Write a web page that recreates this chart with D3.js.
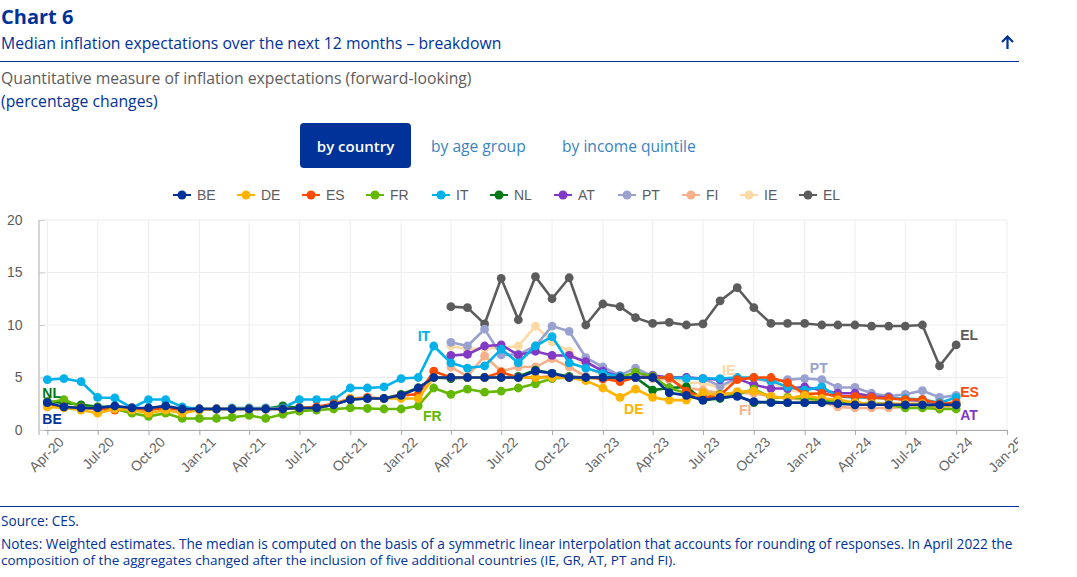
<!DOCTYPE html>
<html>
<head>
<meta charset="utf-8">
<script src="https://cdn.jsdelivr.net/npm/d3@7"></script>
<style>
  html, body { margin: 0; padding: 0; background: #fff; }
  svg { display: block; }
  .head { font-family: "Open Sans", sans-serif; }
  .sans { font-family: "Liberation Sans", Arial, sans-serif; }
</style>
</head>
<body>
<svg id="chart" width="1077" height="577"></svg>
<script>
const startMonth = new Date(2020, 3, 1);

const BE = [2.6,2.2,2.1,2.1,2.3,2.1,2.1,2.3,2.0,2,2,2,2,2,2,2.1,2.1,2.4,2.9,3,3,3.3,4,5,5,5,5,5,5,5.6,5.4,5,5,5,5,5,5,3.55,3.3,2.85,3.1,3.2,2.7,2.6,2.6,2.6,2.6,2.5,2.4,2.4,2.4,2.4,2.4,2.4,2.4];
const DE = [2.2,2.1,1.9,1.6,2,1.9,1.6,1.9,1.6,1.9,2,2,2,2,2,2.1,2.1,2.4,3,3,3,3,3,5,5,5,5,5,5,5,5,5,4.7,4,3.1,3.9,3.1,2.85,2.85,3.55,3.3,3.65,3.7,3.2,3,3.3,3,2.9,2.6,2.5,2.5,2.5,2.5,2.3,2.4];
const ES = [2.4,2.2,2.1,2,1.9,2.1,1.9,2.1,1.9,2,2,2,2,2,2,2.1,2.2,2.5,3,3.1,3,3.3,3.4,5.6,5,5,5,5.5,5,5,5.1,5,5,4.9,4.6,5,5,5,3.7,3.1,3.3,4.8,5,5,4.5,3.4,3.5,3.2,3.2,3.1,3,2.9,2.9,2.5,2.6];
const FR = [2.6,2.9,2.2,2.1,2,1.6,1.3,1.6,1.1,1.1,1.1,1.2,1.4,1.1,1.5,1.8,1.9,2,2.1,2.05,2,2,2.3,4,3.4,3.9,3.6,3.7,4,4.4,4.9,5,4.9,5,5,5.5,5.1,4,3.5,3,3.4,3.4,3.9,3.1,3.1,3,2.9,2.7,2.6,2.5,2.4,2.1,2.1,2,2];
const IT = [4.8,4.9,4.6,3.1,3.05,2.1,2.9,2.9,2.2,2,2,2.1,2.1,2.1,2.1,2.9,2.9,2.9,4,4,4.1,4.9,5,8,6.4,5.9,6.1,7.7,6.4,8,8.9,6.4,5.9,5.4,5.1,5,5,5,4.9,4.9,4.9,5,5,4.7,4.1,3.8,4.1,3.2,3.1,3.1,3,3,2.9,2.6,3.1];
const NL = [2.7,2.6,2.4,2.2,2.2,2,2,2.2,2,2,2,2,2,2,2.3,2.1,2.1,2.4,2.9,3,3,3.4,4,5,4.9,5,5,5,5.1,5.7,5.4,5.1,5,5,4.9,5,3.8,4,4.1,2.85,3,3.3,2.6,2.7,2.6,2.6,2.7,2.7,2.6,2.5,2.5,2.4,2.4,2.3,2.4];
const AT = [null,null,null,null,null,null,null,null,null,null,null,null,null,null,null,null,null,null,null,null,null,null,null,null,7.1,7.2,8,8.1,7.15,7.5,7.1,7.1,6.5,5.6,5.1,5,5.2,5,5,4.9,4.8,4.9,4.3,3.95,3.95,4.1,3.8,3.5,3.5,3.2,3.1,2.85,2.8,2.5,2.4];
const PT = [null,null,null,null,null,null,null,null,null,null,null,null,null,null,null,null,null,null,null,null,null,null,null,null,8.35,8,9.6,7.15,7.2,8,9.9,9.4,6.9,6,5.2,5.9,5.1,5,5,4.9,4.2,4.9,4.9,4.6,4.8,4.9,4.8,4.05,4.05,3.5,3.2,3.4,3.75,3.1,3.3];
const FI = [null,null,null,null,null,null,null,null,null,null,null,null,null,null,null,null,null,null,null,null,null,null,null,null,6,5.1,7.05,5.6,6,6,6.8,6,5.1,4.8,4.9,5,4.9,4.8,4,3.8,3.5,3.5,3.5,3.2,3,2.9,2.7,2.2,2.1,2.1,2.1,2.2,2.2,2.2,2.3];
const IE = [null,null,null,null,null,null,null,null,null,null,null,null,null,null,null,null,null,null,null,null,null,null,null,null,8,7.7,7.8,7.8,8,9.9,8.4,7.5,6,5.2,5,5,5,5,4.5,4.5,4,4.9,5,4.6,3.8,3.6,3.4,3.2,3.1,3,3,2.9,2.9,2.6,2.7];
const EL = [null,null,null,null,null,null,null,null,null,null,null,null,null,null,null,null,null,null,null,null,null,null,null,null,11.75,11.65,10.1,14.45,10.5,14.6,12.5,14.5,10,12,11.75,10.7,10.15,10.25,10,10.1,12.3,13.55,11.65,10.15,10.15,10.15,10,10,10,9.9,9.9,9.9,10,6.1,8.1];

const seriesNames = ['BE','DE','ES','FR','IT','NL','AT','PT','FI','IE','EL'];
const seriesValues = [BE,DE,ES,FR,IT,NL,AT,PT,FI,IE,EL];
const seriesColors = ['#003299','#ffb400','#ff4b00','#65b800','#00b1ea','#007816','#8139c6','#98a1d0','#f6b08a','#fdd9a5','#5c5c5c'];

const yTicks = [0,5,10,15,20];
const legendX = [182,246,311,375,441,499,563,627,691,749,808];

// series label, month index it hangs off, pixel offset from that point
const seriesLabels = [
  ['NL',0,-5,-4],['BE',0,-5,21],['IT',23,-16,-5],['FR',24,-28,27],
  ['DE',34,4,17],['IE',40,2,-13],['FI',43,-32,19],['PT',46,-12,-7],
  ['EL',54,4,-5],['ES',54,4,-6],['AT',54,4,15]
];

const svg = d3.select('#chart');
const plotLeft = 38.5, plotRight = 1007, plotTop = 220, plotBottom = 430;
const monthDate = i => d3.timeMonth.offset(startMonth, i);

const x = d3.scaleTime().domain([new Date(2020, 2, 16), new Date(2025, 0, 1)]).range([plotLeft, plotRight]);
const y = d3.scaleLinear().domain([0, 20]).range([plotBottom, plotTop]);
const color = d3.scaleOrdinal(seriesNames, seriesColors);

// header block
const blue = '#003299';
const headText = (tx, ty, txt, size, fill, weight) => svg.append('text')
  .attr('class', 'head').attr('x', tx).attr('y', ty)
  .attr('font-size', size).attr('fill', fill).attr('font-weight', weight || 400).text(txt);

headText(1, 24, 'Chart 6', 20, blue, 700);
headText(1, 49, 'Median inflation expectations over the next 12 months – breakdown', 15.75, blue);
svg.append('line').attr('x1', 0).attr('x2', 1019).attr('y1', 61.5).attr('y2', 61.5).attr('stroke', blue);
svg.append('path').attr('d', 'M1007.5 49V37M1002 42L1007.5 36.5L1013 42').attr('fill', 'none').attr('stroke', blue).attr('stroke-width', 2.2);
headText(1, 84, 'Quantitative measure of inflation expectations (forward-looking)', 15.75, '#5c5c5c');
headText(1, 107, '(percentage changes)', 15.75, blue);

svg.append('rect').attr('x', 300).attr('y', 123).attr('width', 111).attr('height', 45).attr('rx', 4).attr('fill', blue);
headText(355.5, 152, 'by country', 15, '#fff', 600).attr('text-anchor', 'middle');
headText(431, 152, 'by age group', 15.6, '#3a83c0');
headText(562, 152, 'by income quintile', 15.6, '#3a83c0');

// legend
const legend = svg.append('g').selectAll('g').data(seriesNames).join('g')
  .attr('transform', (d, i) => `translate(${legendX[i]},195)`);
legend.append('line').attr('x1', -9).attr('x2', 9).attr('stroke', d => color(d)).attr('stroke-width', 2);
legend.append('circle').attr('r', 4.5).attr('fill', d => color(d));
legend.append('text').attr('class', 'sans').attr('x', 15).attr('y', 5)
  .attr('font-size', 14).attr('fill', '#5c5c5c').text(d => d);

// axes
const tickDates = d3.range(0, 58, 3).map(monthDate);
const fmt = d3.timeFormat('%b-%y');

svg.append('g').selectAll('line').data(tickDates).join('line')
  .attr('x1', d => x(d)).attr('x2', d => x(d)).attr('y1', plotTop).attr('y2', plotBottom)
  .attr('stroke', '#ededed');
svg.append('g').selectAll('line').data(yTicks).join('line')
  .attr('x1', plotLeft).attr('x2', plotRight).attr('y1', d => y(d)).attr('y2', d => y(d))
  .attr('stroke', '#ededed');

// last tick label is cut off at the chart edge in the original
svg.append('clipPath').attr('id', 'xClip').append('rect')
  .attr('x', 0).attr('y', 0).attr('width', 1018).attr('height', 70);

const xAxis = svg.append('g').attr('transform', `translate(0,${plotBottom})`)
  .attr('clip-path', 'url(#xClip)')
  .call(d3.axisBottom(x).tickValues(tickDates).tickSize(5).tickFormat(fmt));
xAxis.select('.domain').attr('stroke', '#aaa');
xAxis.selectAll('.tick line').attr('stroke', '#aaa');
xAxis.selectAll('text').attr('class', 'sans').attr('font-size', 14).attr('fill', '#666')
  .attr('text-anchor', 'end').attr('dx', 2.8).attr('dy', 13.2)
  .attr('transform', 'rotate(-45)');

const yAxis = svg.append('g').attr('transform', `translate(${plotLeft},0)`)
  .call(d3.axisLeft(y).tickValues(yTicks).tickSize(-6).tickPadding(16));
yAxis.select('.domain').attr('stroke', '#aaa');
yAxis.selectAll('.tick line').attr('stroke', '#ccc');
yAxis.selectAll('text').attr('class', 'sans').attr('font-size', 14).attr('fill', '#5c5c5c');

// lines, EL at the back and BE on top
const line = d3.line().defined(d => d != null).x((d, i) => x(monthDate(i))).y(d => y(d));
const order = d3.range(seriesNames.length).reverse();

const groups = svg.append('g').selectAll('g').data(order).join('g');
groups.append('path')
  .attr('d', k => line(seriesValues[k]))
  .attr('fill', 'none').attr('stroke', k => seriesColors[k]).attr('stroke-width', 2.6);
groups.each(function(k) {
  d3.select(this).selectAll('circle')
    .data(seriesValues[k].map((v, i) => ({ v, i })).filter(d => d.v != null))
    .join('circle')
    .attr('cx', d => x(monthDate(d.i))).attr('cy', d => y(d.v)).attr('r', 4.4)
    .attr('fill', seriesColors[k]);
});

// labels
svg.append('g').selectAll('text').data(seriesLabels).join('text')
  .attr('class', 'sans')
  .attr('x', d => x(monthDate(d[1])) + d[2])
  .attr('y', d => y(seriesValues[seriesNames.indexOf(d[0])][d[1]]) + d[3])
  .attr('font-size', 14).attr('font-weight', 700)
  .attr('fill', d => color(d[0])).text(d => d[0]);

// footer, the notes stay one text with two lines
svg.append('line').attr('x1', 0).attr('x2', 1019).attr('y1', 506.5).attr('y2', 506.5).attr('stroke', blue);
headText(1, 526, 'Source: CES.', 13.6, blue);
const notes = headText(1, 549, '', 13.7, blue);
notes.append('tspan').attr('x', 1).attr('y', 549)
  .text('Notes: Weighted estimates. The median is computed on the basis of a symmetric linear interpolation that accounts for rounding of responses. In April 2022 the');
notes.append('tspan').attr('x', 1).attr('y', 565).attr('font-size', 13.5)
  .text('composition of the aggregates changed after the inclusion of five additional countries (IE, GR, AT, PT and FI).');
</script>
</body>
</html>
